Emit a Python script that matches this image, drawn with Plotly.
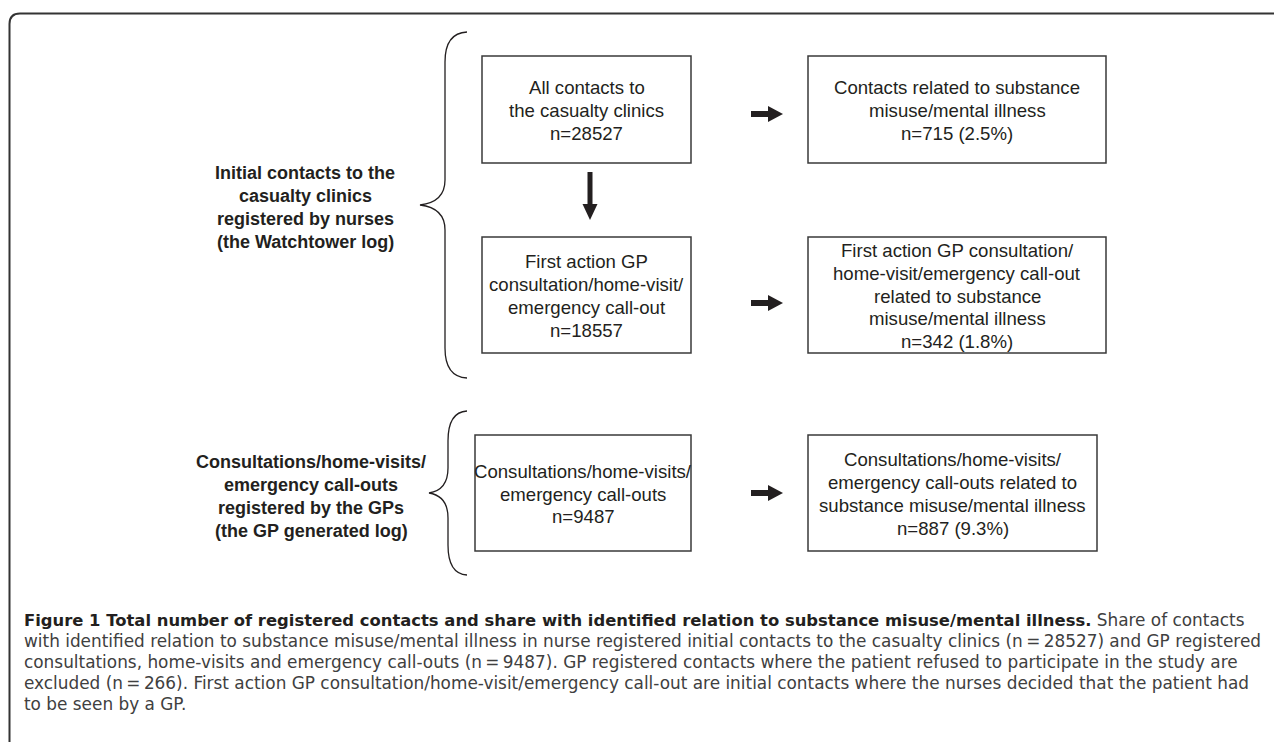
import plotly.graph_objects as go

W, H = 1282, 742
OFF = 8  # page body margin of the html page

# ---- content ----
group_labels = [
    ["Initial contacts to the", "casualty clinics", "registered by nurses", "(the Watchtower log)"],
    ["Consultations/home-visits/", "emergency call-outs", "registered by the GPs", "(the GP generated log)"],
]
box_lines = [
    ["All contacts to", "the casualty clinics"],
    ["Contacts related to substance", "misuse/mental illness"],
    ["First action GP", "consultation/home-visit/", "emergency call-out"],
    ["First action GP consultation/", "home-visit/emergency call-out", "related to substance", "misuse/mental illness"],
    ["Consultations/home-visits/", "emergency call-outs"],
    ["Consultations/home-visits/", "emergency call-outs related to", "substance misuse/mental illness"],
]
box_n = [28527, 715, 18557, 342, 9487, 887]
box_pct = [None, 2.5, None, 1.8, None, 9.3]

caption_bold = "Figure 1 Total number of registered contacts and share with identified relation to substance misuse/mental illness."
caption_lines = [
    " Share of contacts",
    "with identified relation to substance misuse/mental illness in nurse registered initial contacts to the casualty clinics (n\u2009=\u200928527) and GP registered",
    "consultations, home-visits and emergency call-outs (n\u2009=\u20099487). GP registered contacts where the patient refused to participate in the study are",
    "excluded (n\u2009=\u2009266). First action GP consultation/home-visit/emergency call-out are initial contacts where the nurses decided that the patient had",
    "to be seen by a GP.",
]

# ---- layout geometry ----
boxes = [(482, 56, 691, 163), (808, 56, 1106, 163),
         (482, 237, 691, 353), (808, 237, 1106, 353),
         (475, 435, 691, 551), (808, 435, 1097, 551)]
label_pos = [(305, 207.5), (311, 496)]
right_arrows_y = [114, 303, 493]
down_arrow = (590, 172, 220)

INK = "#231f20"
BOX_FONT = dict(family="Liberation Sans, Arial, sans-serif", size=18.6, color=INK)
LABEL_FONT = dict(family="Liberation Sans, Arial, sans-serif", size=18, color=INK)
LS_BOX = 22.7
LS_LABEL = 23

fig = go.Figure()
shapes = []
annotations = []


def add_lines(lines, cx, cy, font, ls, bold=False):
    n = len(lines)
    for i, t in enumerate(lines):
        y = cy + (i - (n - 1) / 2) * ls
        annotations.append(dict(x=cx, y=y, xref="x", yref="y", text=(f"<b>{t}</b>" if bold else t),
                                showarrow=False, xanchor="center", yanchor="middle", font=font))


# outer frame with rounded corner
shapes.append(dict(type="path", path=f"M 9.5,{H+20} L 9.5,24 Q 9.5,13.5 20,13.5 L {W+20},13.5",
                   line=dict(color="#333333", width=2)))

# boxes and text
for (x0, y0, x1, y1), lines, n, p in zip(boxes, box_lines, box_n, box_pct):
    shapes.append(dict(type="rect", x0=x0, y0=y0, x1=x1, y1=y1,
                       line=dict(color="#3a3a3a", width=1.5), fillcolor="white"))
    last = f"n={n}" + (f" ({p}%)" if p is not None else "")
    add_lines(lines + [last], (x0 + x1) / 2, (y0 + y1) / 2 + 1, BOX_FONT, LS_BOX)

# group labels
for lines, (cx, cy) in zip(group_labels, label_pos):
    add_lines(lines, cx, cy, LABEL_FONT, LS_LABEL, bold=True)

# braces
def brace(xe, xv, xt, y0, yt, y1):
    return (f"M {xe},{y0} Q {xv},{y0+1} {xv},{y0+30} L {xv},{yt-25} "
            f"Q {xv},{yt-3} {xt},{yt} Q {xv},{yt+3} {xv},{yt+25} "
            f"L {xv},{y1-30} Q {xv},{y1-1} {xe},{y1}")

shapes.append(dict(type="path", path=brace(467, 445, 420, 32, 205, 378),
                   line=dict(color=INK, width=1.3)))
shapes.append(dict(type="path", path=brace(467, 448, 429, 411, 493, 575),
                   line=dict(color=INK, width=1.3)))

# arrows
for y in right_arrows_y:
    shapes.append(dict(type="path",
                       path=f"M 751,{y-3} L 768,{y-3} L 768,{y-8} L 783,{y} L 768,{y+8} L 768,{y+3} L 751,{y+3} Z",
                       line=dict(width=0), fillcolor=INK))
cx, ys, ye = down_arrow
shapes.append(dict(type="path",
                   path=f"M {cx-2.5},{ys} L {cx+2.5},{ys} L {cx+2.5},{ye-16} L {cx+7.5},{ye-16} L {cx},{ye} "
                        f"L {cx-7.5},{ye-16} L {cx-2.5},{ye-16} Z",
                   line=dict(width=0), fillcolor=INK))

# caption
CAP_FONT = dict(family="DejaVu Sans, sans-serif", size=16.9, color="#404040")
for i, t in enumerate(caption_lines):
    txt = (f"<b><span style='color:#231f20;font-size:16.4px'>{caption_bold}</span></b>{t}" if i == 0 else t)
    annotations.append(dict(x=22, y=620 + i * 21, xref="x", yref="y", text=txt, showarrow=False,
                            xanchor="left", yanchor="middle", font=CAP_FONT))

fig.update_layout(
    width=W, height=H, margin=dict(l=0, r=0, t=0, b=0),
    paper_bgcolor="white", plot_bgcolor="white",
    xaxis=dict(range=[OFF, W + OFF], visible=False, fixedrange=True),
    yaxis=dict(range=[H + OFF, OFF], visible=False, fixedrange=True),
    shapes=shapes, annotations=annotations, showlegend=False,
)
fig.write_html("out.html", config={"displayModeBar": False})
